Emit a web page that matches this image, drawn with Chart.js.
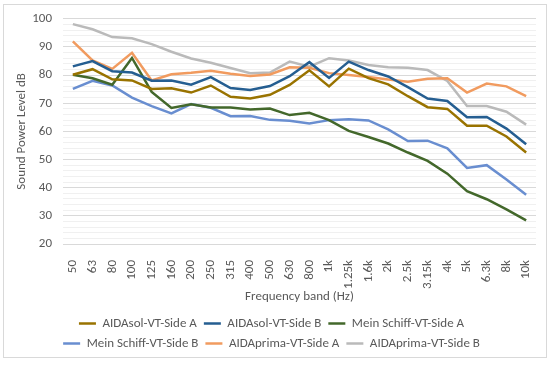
<!DOCTYPE html>
<html>
<head>
<meta charset="utf-8">
<script src="https://cdn.jsdelivr.net/npm/chart.js@4.4.1/dist/chart.umd.min.js"></script>
<style>
    body { margin: 0; background: #fff; }
    #wrap { position: relative; width: 550px; height: 365px; }
    #frame { position: absolute; left: 3px; top: 4px; width: 542px; height: 352px; border: 1px solid #d9d9d9; }
    #soundChart { position: absolute; left: 0; top: 0; }
</style>
</head>
<body>
<div id="wrap">
    <div id="frame"></div>
    <canvas id="soundChart" width="550" height="365"></canvas>
</div>
<script>
var bandas = ['50','63','80','100','125','160','200','250','315','400','500','630','800',
              '1k','1.25k','1.6k','2k','2.5k','3.15k','4k','5k','6.3k','8k','10k'];

var nomesSeries = ['AIDAsol-VT-Side A','AIDAsol-VT-Side B','Mein Schiff-VT-Side A',
                   'Mein Schiff-VT-Side B','AIDAprima-VT-Side A','AIDAprima-VT-Side B'];

var aidasolA = [80.1,82.1,78.5,78.1,75.1,75.3,73.8,76.3,72.3,71.7,73.0,76.5,81.7,76.0,82.3,78.9,76.7,72.5,68.6,68.0,62.0,62.0,58.2,52.5];
var aidasolB = [83.1,85.0,81.4,80.9,78.0,78.1,76.6,79.3,75.4,74.7,76.1,79.6,84.6,79.0,84.8,81.8,79.5,75.7,71.7,70.8,65.0,65.1,61.0,55.4];
var meinSchiffA = [80.1,78.9,76.6,86.1,74.0,68.3,69.6,68.5,68.5,67.8,68.1,65.8,66.6,64.0,60.2,58.0,55.7,52.5,49.5,45.0,38.8,35.9,32.3,28.4];
var meinSchiffB = [75.1,78.0,76.3,72.0,69.0,66.4,69.7,68.4,65.4,65.5,64.1,63.8,62.8,64.0,64.3,63.9,60.7,56.6,56.7,54.0,47.0,48.0,42.9,37.5];
var aidaprimaA = [92.0,85.2,82.2,87.9,78.1,80.3,80.8,81.5,80.5,79.7,80.2,82.8,82.6,80.7,80.0,79.3,78.4,77.6,78.7,78.9,73.8,77.0,76.0,72.5];
var aidaprimaB = [98.1,96.3,93.5,93.1,91.0,88.3,85.9,84.4,82.5,80.7,80.9,84.8,83.0,86.0,85.2,83.6,82.8,82.6,81.8,77.9,69.0,69.0,67.0,62.4];

var yTicks = [20,30,40,50,60,70,80,90,100];

var cores = ['#997300','#255E91','#43682B','#698ED0','#F19B5F','#BABABA'];

var fonte = 'Carlito, Lato, "Liberation Sans", sans-serif';
var corTexto = '#595959';

function montaDatasets() {
    var valores = [aidasolA, aidasolB, meinSchiffA, meinSchiffB, aidaprimaA, aidaprimaB];
    var ds = [];
    for (var i = 0; i < valores.length; i++) {
        ds.push({
            label: nomesSeries[i],
            data: valores[i],
            borderColor: cores[i],
            backgroundColor: cores[i],
            borderWidth: 2.5,
            pointRadius: 0,
            tension: 0,
            fill: false
        });
    }
    return ds;
}

function iniciaGrafico() {
    var ctx = document.getElementById('soundChart').getContext('2d');
    new Chart(ctx, {
        type: 'line',
        data: {
            labels: bandas,
            datasets: montaDatasets()
        },
        options: {
            responsive: false,
            animation: false,
            events: [],
            layout: { padding: { left: 5, right: 12, top: 16, bottom: 5 } },
            plugins: {
                tooltip: { enabled: false },
                legend: {
                    position: 'bottom',
                    labels: {
                        color: corTexto,
                        font: { family: fonte, size: 13 },
                        usePointStyle: true,
                        pointStyle: 'line',
                        pointStyleWidth: 17,
                        boxHeight: 13,
                        padding: 7
                    }
                }
            },
            scales: {
                x: {
                    offset: true,
                    grid: { display: false },
                    border: { display: false },
                    ticks: {
                        color: corTexto,
                        font: { family: fonte, size: 13 },
                        minRotation: 90,
                        maxRotation: 90,
                        autoSkip: false,
                        padding: 8
                    },
                    title: {
                        display: true,
                        text: 'Frequency band (Hz)',
                        color: corTexto,
                        font: { family: fonte, size: 13 },
                        padding: { top: 4, bottom: 5 }
                    },
                    afterFit: function (scale) { scale.height = 66; }
                },
                y: {
                    min: 20,
                    max: 100,
                    border: { display: false },
                    grid: {
                        drawTicks: false,
                        color: function (c) {
                            return yTicks.indexOf(c.tick.value) >= 0 ? '#d9d9d9' : '#f0f0f0';
                        }
                    },
                    ticks: {
                        stepSize: 2,
                        maxTicksLimit: 100,
                        autoSkip: false,
                        padding: 11,
                        color: corTexto,
                        font: { family: fonte, size: 13 },
                        callback: function (v) {
                            return yTicks.indexOf(v) >= 0 ? v : '';
                        }
                    },
                    title: {
                        display: true,
                        text: 'Sound Power Level dB',
                        color: corTexto,
                        font: { family: fonte, size: 13 },
                        padding: { top: 9, bottom: 0 }
                    },
                    afterFit: function (scale) { scale.width = 58; }
                }
            }
        }
    });
}

document.addEventListener('DOMContentLoaded', function () {
    iniciaGrafico();
});
</script>
</body>
</html>
